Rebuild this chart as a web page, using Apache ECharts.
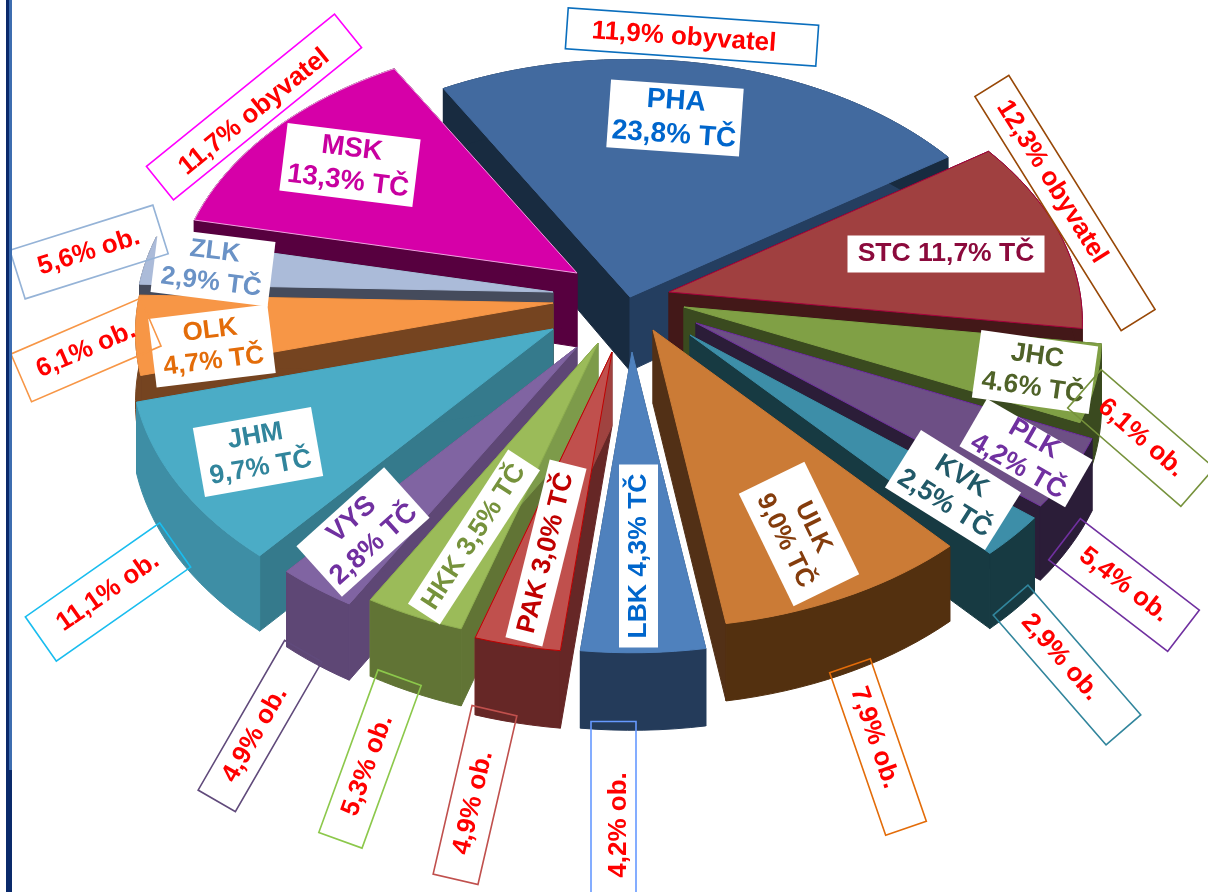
<!DOCTYPE html>
<html>
<head>
<meta charset="utf-8">
<style>html,body{margin:0;padding:0;background:#fff}#c{width:1208px;height:892px}</style>
<script src="https://cdn.jsdelivr.net/npm/echarts@6/dist/echarts.min.js"></script>
</head>
<body>
<div id="c"></div>
<script>
// ---- data ----
var regions = ['PHA','STC','JHC','PLK','KVK','ULK','LBK','PAK','HKK','VYS','JHM','OLK','ZLK','MSK'];
var tcShares = [23.8,11.7,4.6,4.2,2.5,9.0,4.3,3.0,3.5,2.8,9.7,4.7,2.9,13.3];
var tcLabels = ['23,8% TČ','11,7% TČ','4.6% TČ','4,2% TČ','2,5% TČ','9,0% TČ','4,3% TČ','3,0% TČ','3,5% TČ','2,8% TČ','9,7% TČ','4,7% TČ','2,9% TČ','13,3% TČ'];
var populationLabels = ['11,9% obyvatel','12,3% obyvatel','6,1% ob.','5,4% ob.','2,9% ob.','7,9% ob.','4,2% ob.','4,9% ob.','5,3% ob.','4,9% ob.','11,1% ob.','6,1% ob.','5,6% ob.','11,7% obyvatel'];

// ---- slice look ----
var topColors  = ['#426A9F','#A04040','#80A045','#6D4F85','#3D8EA8','#CB7B36','#4F81BD','#C0504D','#9BBB59','#8064A2','#4BACC6','#F79646','#ABBBD9','#D600A8'];
var edgeColors = ['#426A9F','#A8003C','#80A045','#7030A0','#3D8EA8','#CB7B36','#4F81BD','#C00000','#8FAF50','#8064A2','#4BACC6','#F79646','#ABBBD9','#F0A0E0'];
var outerWall  = ['#182B40','#431818','#3A4A1F','#2B1D38','#173A42','#53300F','#243B5A','#662726','#617435','#5E4775','#3E8EA5','#754420','#454B5C','#57003F'];
var startWall  = ['#182B40','#431818','#3A4A1F','#2B1D38','#173A42','#523016','#25405F','#662726','#617435','#5E4775','#357A8C','#754420','#454B5C','#57003F'];
var endWall    = ['#243E60','#431818','#3A4A1F','#2B1D38','#173A42','#523016','#25405F','#A04340','#7D9B4A','#5E4775','#357A8C','#754420','#454B5C','#57003F'];
// how far each slice is pulled out of the pie, in pixels, and its radius factor
var explodeX = [10,49,64,76,70,33,12,-8,-22,-43,-67,-67,-67,-43];
var explodeY = [-13,-18,-3,13,25,20,42,42,33,37,19,-7,-18,-37];
var radiusFactor = [0.985,0.99,1,1,1,0.99,1,1,1,1,1.01,1,1,0.965];

// ---- projection of the tilted pie ----
var centerX = 620, centerY = 310, radius = 415, tilt = 0.645, persp = 0.11, depth = 69, startDeg = -30;
var total = tcShares.reduce(function(a,b){return a+b;},0);

function project(i, deg, r){
  var t = deg*Math.PI/180, s = 1/(1+persp*Math.cos(t));
  var R = radius*radiusFactor[i]*r;
  return {
    x: centerX+explodeX[i]+R*Math.sin(t)*s,
    y: centerY+explodeY[i]-R*Math.cos(t)*tilt*s,
    h: depth*(r===0 ? 1.07 : s)
  };
}
function sliceRange(i){
  var sum=0; for(var k=0;k<i;k++) sum+=tcShares[k];
  return [startDeg+sum/total*360, startDeg+(sum+tcShares[i])/total*360];
}
function poly(points, fill, stroke, z2){
  return {type:'polygon', z2:z2, shape:{points:points}, style:{fill:fill, stroke:stroke||fill, lineWidth:1}};
}
function renderSlice(params, api){
  var i = api.value(0), rg = sliceRange(i), a0 = rg[0], a1 = rg[1];
  var mid = (a0+a1)/2;
  var base = Math.round((-Math.cos(mid*Math.PI/180)+1)*100)*10;
  var apex = project(i, mid, 0);
  var top = [[apex.x,apex.y]], lower = [], upper = [];
  var n = Math.max(6, Math.ceil((a1-a0)/2));
  for(var k=0;k<=n;k++){
    var p = project(i, a0+(a1-a0)*k/n, 1);
    top.push([p.x,p.y]); upper.push([p.x,p.y]); lower.push([p.x,p.y+p.h]);
  }
  var first = upper[0], last = upper[n];
  var children = [
    poly([[apex.x,apex.y],first,lower[0],[apex.x,apex.y+apex.h]], startWall[i], null, base+1),
    poly([[apex.x,apex.y],last,lower[n],[apex.x,apex.y+apex.h]], endWall[i], null, base+2),
    poly(upper.concat(lower.slice().reverse()), outerWall[i], null, base+3),
    poly(top, topColors[i], edgeColors[i], base+4)
  ];
  return {type:'group', children:children};
}

// ---- label boxes: [centre x, centre y, width, height, rotation, font size, lines, colour] ----
var insideLayout = [
 [675,118,133,68,-4,28,2,'#0066CC'],[946,254,197,37,0,26.5,1,'#8B0A3C'],[1035,372,118,68,-8,26.5,2,'#4F6228'],
 [1026,453,122,55,-30,27,2,'#7030A0'],[953,490,118,68,-32,27,2,'#215968'],[799,534,125,73,-64,26,2,'#843C0C'],
 [638.5,556,183,39,90,26.5,1,'#0066CC'],[546,553,183,38,76,26.5,1,'#C00000'],[474,537,184,38,57,26.5,1,'#76923C'],
 [363,532,118,68,42,27.5,2,'#7030A0'],[258,452,120,70,10,26.5,2,'#31859C'],[212,346,120,69,7,26,2,'#E36C09'],
 [213,267,118,65,-7,26,2,'#6A92C6'],[350,165,134,68,-7,27.5,2,'#C800A0']
];
// [centre x, centre y, width, height, rotation, border colour, text shift along, text shift across]
var outsideLayout = [
 [692,37,251,41,-4,'#0A6EBD',-8,1],[1065,203,276,40,-58,'#984807',-25,0],[1141,438,150,51,-41,'#76923C',0,0],
 [1124,585,150,52,-37.5,'#7030A0',0,0],[1067,665,172,46,-49,'#31859C',-10,0],[878,747,172,43,-71,'#E36C09',-10,0],
 [613.5,808,173,45,90,'#6699FF',-17,5],[475,795,173,46,77,'#C0504D',-8,0],[370,759,173,46,70,'#8CC84B',-7,0],
 [260,726,173,43,60,'#604A7B',-10,0],[108,592,164,54,35,'#19BDEF',0,0],[86,350,141,52,23.3,'#F79646',0,0],
 [89,252,150,51,17.5,'#95B3D7',0,0],[254,107,242,43,39,'#FF00FF',-3,4]
];
var fontFamily = '"Liberation Sans", Arial, sans-serif';

var labelGraphics = [];
regions.forEach(function(name,i){
  var a = insideLayout[i], txt = a[6]===2 ? name+'\n'+tcLabels[i] : name+' '+tcLabels[i];
  labelGraphics.push({type:'group', x:a[0], y:a[1], rotation:a[4]*Math.PI/180, children:[
    {type:'rect', z:100, shape:{x:-a[2]/2,y:-a[3]/2,width:a[2],height:a[3]}, style:{fill:'#fff'}},
    {type:'text', z:101, style:{text:txt, x:0, y:0, align:'center', verticalAlign:'middle', fill:a[7], font:'bold '+a[5]+'px '+fontFamily, lineHeight:Math.round(a[5]*1.2)}}
  ]});
  var b = outsideLayout[i];
  labelGraphics.push({type:'group', x:b[0], y:b[1], rotation:b[4]*Math.PI/180, children:[
    {type:'rect', z:110, shape:{x:-b[2]/2,y:-b[3]/2,width:b[2],height:b[3]}, style:{fill:'transparent', stroke:b[5], lineWidth:1.6}},
    {type:'text', z:111, style:{text:populationLabels[i], x:b[6], y:b[7], align:'center', verticalAlign:'middle', fill:'#FF0000', font:'bold 26px '+fontFamily}}
  ]});
});
// the slide's edge line on the left
var edgeGraphics = [
  {type:'rect', z:120, shape:{x:6,y:0,width:3,height:892}, style:{fill:'#0A2A6B'}},
  {type:'rect', z:120, shape:{x:9,y:0,width:3,height:770}, style:{fill:'#3D6DB0'}},
  {type:'rect', z:120, shape:{x:9,y:770,width:3,height:122}, style:{fill:'#0A2A6B'}}
];

var chart = echarts.init(document.getElementById('c'), null, {renderer:'canvas'});
chart.setOption({
  animation:false,
  backgroundColor:'#fff',
  tooltip:{show:false},
  graphic:{elements:edgeGraphics.concat(labelGraphics)},
  series:[{
    type:'custom', coordinateSystem:'none', silent:true,
    renderItem:renderSlice,
    encode:{},
    data:regions.map(function(r,i){return [i,tcShares[i]];})
  }]
});
</script>
</body>
</html>
